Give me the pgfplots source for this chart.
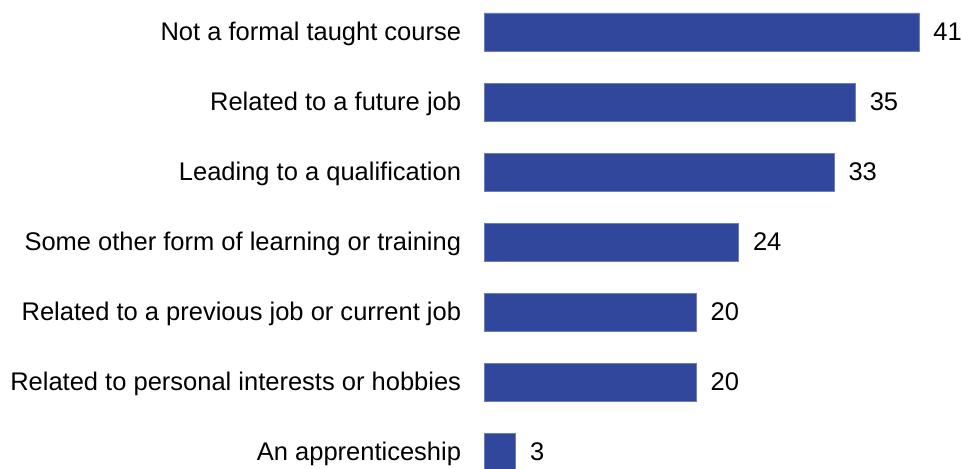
\documentclass[border=0pt]{standalone}
\usepackage{fontspec}
\setmainfont{Liberation Sans}
\usepackage{pgfplots}
\pgfplotsset{compat=1.18}
\definecolor{barblue}{HTML}{31479B}

\begin{document}
\fontsize{12.75}{15}\selectfont
\begin{tikzpicture}
\begin{axis}[
    name=ax,
    scale only axis,
    x=5.305pt, y=35pt,
    y dir=reverse,
    xbar,
    bar width=19pt,
    xmin=0, xmax=45.05,
    ymin=-0.457, ymax=6.2286,
    hide x axis,
    axis y line*=left,
    y axis line style={draw=none},
    ytick={0,...,6},
    yticklabels={Not a formal taught course,Related to a future job,Leading to a qualification,Some other form of learning or training,Related to a previous job or current job,Related to personal interests or hobbies,An apprenticeship},
    ytick style={draw=none},
    yticklabel style={font=\fontsize{12.75}{15}\selectfont, anchor=east, inner sep=0pt, xshift=-7pt, yshift=-0.8pt},
    nodes near coords,
    nodes near coords style={font=\fontsize{12.75}{15}\selectfont, anchor=west, inner sep=0pt, xshift=7pt, /pgf/number format/assume math mode=true},
    /pgf/number format/assume math mode=true,
]
\addplot[fill=barblue, draw=barblue!70!white, line width=0.4pt] coordinates {
(41,0) (35,1) (33,2) (24,3) (20,4) (20,5) (3,6)};
\end{axis}
\pgfresetboundingbox
\path (ax.south west) ++(-242pt,0) rectangle (ax.north east);
\end{tikzpicture}
\end{document}
